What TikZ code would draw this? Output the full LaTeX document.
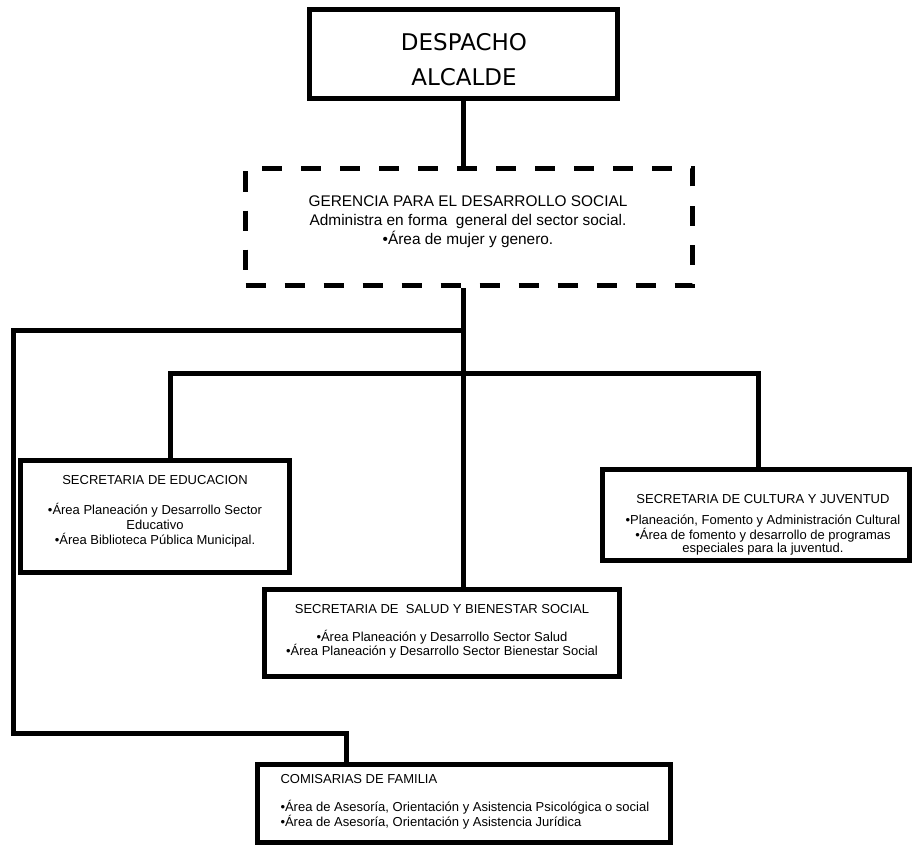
\documentclass[tikz,border=0pt]{standalone}
\usepackage{fontspec}
\setmainfont{Liberation Sans}
\newfontfamily\headfont{DejaVu Sans}
\begin{document}
\begin{tikzpicture}[x=1pt,y=-1pt,line width=5pt,
  box/.style={draw,rectangle,inner sep=0pt,line width=5pt},
  txt/.style={inner sep=0pt,align=center,font=\fontsize{13}{15}\selectfont}]
\useasboundingbox[fill=white] (0,0) rectangle (916,848);
% boxes
\node[box,minimum width=308pt,minimum height=89pt] (alc) at (463.5,54) {};
\node[box,dash pattern=on 20pt off 19pt,minimum width=447pt,minimum height=117pt] (ger) at (469,227) {};
\node[box,minimum width=269pt,minimum height=112pt] (edu) at (155,516.5) {};
\node[box,minimum width=307pt,minimum height=91pt] (cul) at (756,515) {};
\node[box,minimum width=355pt,minimum height=87pt] (sal) at (442,633) {};
\node[box,minimum width=413pt,minimum height=78pt] (com) at (464,803.5) {};
% texts
\node[inner sep=0pt,align=center,font=\headfont\fontsize{23}{35}\selectfont] (alct) at (464,60) {DESPACHO\\ALCALDE};
\node[txt,font=\fontsize{15.4}{19}\selectfont] (gert) at (468,222) {GERENCIA PARA EL DESARROLLO SOCIAL\\Administra en forma \ general del sector social.\\•Área de mujer y genero.};
\node[txt] (edut) at (155,511) {SECRETARIA DE EDUCACION\\[15pt]•Área Planeación y Desarrollo Sector\\Educativo\\•Área Biblioteca Pública Municipal.};
\node[txt,font=\fontsize{13}{13.3}\selectfont] (cult) at (763,525) {SECRETARIA DE CULTURA Y JUVENTUD\\[7pt]•Planeación, Fomento y Administración Cultural\\•Área de fomento y desarrollo de programas\\especiales para la juventud.};
\node[txt,font=\fontsize{13}{14}\selectfont] (salt) at (442,631) {SECRETARIA DE \ SALUD Y BIENESTAR SOCIAL\\[14pt]•Área Planeación y Desarrollo Sector Salud\\•Área Planeación y Desarrollo Sector Bienestar Social};
\node[txt,align=left,anchor=west,font=\fontsize{13}{12.5}\selectfont] (comt) at (278,802) {COMISARIAS DE FAMILIA\\[15.5pt]•Área de Asesoría, Orientación y Asistencia Psicológica o social\\•Área de Asesoría, Orientación y Asistencia Jurídica};
% connectors
\coordinate (j1) at (463.5,330);
\coordinate (j2) at (463.5,373);
\coordinate (lc) at (13,733);
\coordinate (cx) at (346,0);
\coordinate (ex) at (170,0);
\coordinate (kx) at (758,0);
\draw (alc.south) -- (ger.north -| alc.south);
\draw (ger.south -| alc.south) -- (sal.north -| alc.south);
\draw (j1) -| (lc) -| (com.north -| cx);
\draw (edu.north -| ex) |- (j2) -| (cul.north -| kx);
\end{tikzpicture}
\end{document}
